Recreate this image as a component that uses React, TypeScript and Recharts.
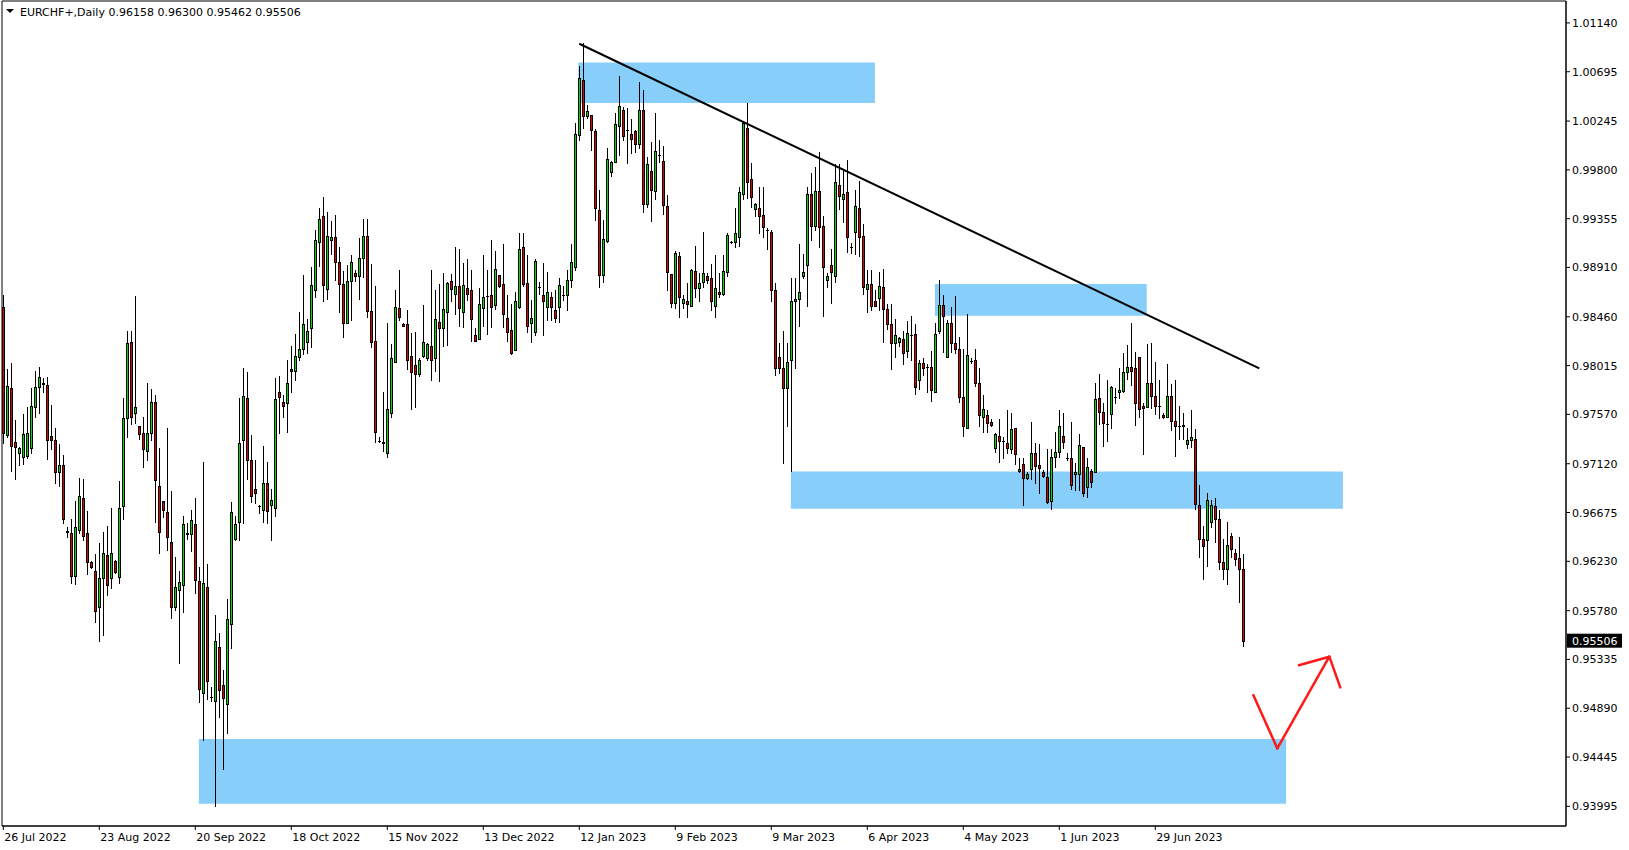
import React from "react";
import { Bar, ComposedChart, ReferenceArea, ReferenceLine, XAxis, YAxis } from "recharts";

// EURCHF+ daily bars (bar 0 = 26 Jul 2022)
const OPEN = [
  0.9855, 0.9738, 0.9781, 0.9732, 0.9722, 0.9718, 0.9719, 0.9726, 0.9764, 0.9782,
  0.9786, 0.9784, 0.9737, 0.9734, 0.9704, 0.9711, 0.9651, 0.9649, 0.961, 0.9652,
  0.9681, 0.9649, 0.9622, 0.9614, 0.9581, 0.9608, 0.9629, 0.9608, 0.9623, 0.9609,
  0.9673, 0.9754, 0.9823, 0.9758, 0.9746, 0.974, 0.9724, 0.974, 0.9768, 0.9692,
  0.9678, 0.9668, 0.9641, 0.9581, 0.9597, 0.9601, 0.9649, 0.9648, 0.9657, 0.9605,
  0.9503, 0.96, 0.9499, 0.9496, 0.9545, 0.951, 0.9493, 0.9566, 0.9643, 0.9659,
  0.9734, 0.9772, 0.9715, 0.9689, 0.9673, 0.967, 0.9694, 0.9674, 0.9672, 0.9777,
  0.9768, 0.9767, 0.9798, 0.9797, 0.9809, 0.9817, 0.9823, 0.9836, 0.987, 0.9914,
  0.9938, 0.9871, 0.9916, 0.9919, 0.9896, 0.9876, 0.984, 0.9879, 0.9886, 0.9883,
  0.99, 0.992, 0.9851, 0.9824, 0.9733, 0.9732, 0.9722, 0.9758, 0.9805, 0.9854,
  0.9839, 0.9839, 0.981, 0.9802, 0.9794, 0.981, 0.9808, 0.9819, 0.9808, 0.9841,
  0.9836, 0.985, 0.9879, 0.9867, 0.9874, 0.985, 0.9872, 0.987, 0.9829, 0.9826,
  0.9854, 0.9865, 0.9866, 0.9857, 0.9884, 0.9876, 0.9845, 0.9834, 0.9816, 0.9855,
  0.991, 0.9877, 0.984, 0.9832, 0.9873, 0.9866, 0.9855, 0.9864, 0.9852, 0.9855,
  0.9866, 0.9866, 0.988, 0.9891, 1.0012, 1.0062, 1.0029, 1.003, 1.0015, 0.9943,
  0.9884, 0.9915, 0.9978, 0.9987, 1.002, 1.0035, 1.0016, 1.0013, 1.0015, 1.0004,
  1.0035, 0.9949, 0.9979, 0.9961, 0.9994, 0.9988, 0.9947, 0.9885, 0.9859, 0.9901,
  0.9859, 0.986, 0.9856, 0.9888, 0.9872, 0.9878, 0.9883, 0.9881, 0.9856, 0.9869,
  0.9867, 0.9887, 0.9914, 0.9914, 0.9919, 0.9958, 1.0018, 0.9972, 0.9944, 0.9945,
  0.9939, 0.9925, 0.9923, 0.987, 0.9809, 0.9799, 0.9781, 0.9807, 0.986, 0.9862,
  0.9883, 0.9893, 0.9958, 0.9929, 0.9961, 0.9929, 0.988, 0.9893, 0.9883, 0.9966,
  0.9953, 0.996, 0.991, 0.9923, 0.9945, 0.992, 0.9871, 0.9876, 0.986, 0.9863,
  0.9873, 0.9853, 0.9839, 0.9822, 0.9823, 0.9826, 0.9815, 0.9829, 0.983, 0.9788,
  0.9804, 0.98, 0.98, 0.9777, 0.9833, 0.9857, 0.9809, 0.984, 0.9822, 0.9817,
  0.9773, 0.9745, 0.9806, 0.9807, 0.9786, 0.9755, 0.9756, 0.975, 0.9726, 0.9737,
  0.9733, 0.9731, 0.9725, 0.9745, 0.9705, 0.9712, 0.9699, 0.9707, 0.9722, 0.9711,
  0.9704, 0.97, 0.9678, 0.9718, 0.9723, 0.9737, 0.9717, 0.9717, 0.9703, 0.9703,
  0.9727, 0.9691, 0.9705, 0.9704, 0.9772, 0.9759, 0.9748, 0.9757, 0.9773, 0.9777,
  0.9778, 0.9796, 0.98, 0.9799, 0.9809, 0.9765, 0.9764, 0.9786, 0.9774, 0.9765,
  0.9756, 0.9755, 0.9774, 0.9751, 0.9746, 0.9746, 0.973, 0.9734, 0.9735, 0.9674,
  0.9643, 0.9642, 0.9659, 0.9673, 0.9662, 0.9622, 0.9616, 0.9646, 0.9631, 0.9626,
  0.96158,
];

const HIGH = [
  0.9866, 0.9798, 0.9804, 0.9752, 0.9727, 0.9757, 0.9764, 0.9781, 0.9797, 0.98,
  0.979, 0.9791, 0.9766, 0.9745, 0.973, 0.972, 0.9654, 0.9662, 0.9678, 0.9699,
  0.9698, 0.9669, 0.9623, 0.963, 0.964, 0.965, 0.9655, 0.9672, 0.9624, 0.9696,
  0.9772, 0.9833, 0.9833, 0.9865, 0.9746, 0.9755, 0.9786, 0.978, 0.9775, 0.9726,
  0.9678, 0.9745, 0.9687, 0.9627, 0.9614, 0.9664, 0.9658, 0.967, 0.9681, 0.9618,
  0.9714, 0.9621, 0.9508, 0.9574, 0.9558, 0.9524, 0.9589, 0.9677, 0.9664, 0.9772,
  0.9799, 0.9796, 0.9738, 0.9715, 0.9674, 0.9728, 0.9714, 0.9689, 0.979, 0.9792,
  0.9775, 0.9807, 0.9819, 0.983, 0.985, 0.9884, 0.9844, 0.9891, 0.9925, 0.9945,
  0.9955, 0.9942, 0.9933, 0.9939, 0.991, 0.9888, 0.9893, 0.9902, 0.9889, 0.9918,
  0.9935, 0.9935, 0.9894, 0.9874, 0.9736, 0.9777, 0.984, 0.9821, 0.987, 0.9889,
  0.984, 0.9852, 0.9831, 0.9832, 0.9808, 0.9857, 0.9822, 0.9889, 0.987, 0.9876,
  0.9886, 0.9878, 0.9885, 0.991, 0.9908, 0.9895, 0.9899, 0.9889, 0.9836, 0.9872,
  0.9902, 0.9889, 0.9916, 0.9906, 0.9884, 0.9912, 0.9866, 0.9858, 0.9869, 0.9922,
  0.9922, 0.9902, 0.9861, 0.9899, 0.9878, 0.9895, 0.9887, 0.9869, 0.987, 0.9881,
  0.9874, 0.9889, 0.9912, 1.0023, 1.0075, 1.0096, 1.0039, 1.003, 1.0017, 0.9962,
  0.9934, 1.0, 0.9988, 1.0032, 1.0066, 1.0037, 1.0036, 1.0026, 1.0016, 1.006,
  1.0053, 0.9992, 1.0005, 1.0032, 1.0007, 1.0002, 0.9957, 0.9885, 0.9906, 0.9905,
  0.9866, 0.9877, 0.989, 0.9911, 0.9886, 0.9923, 0.9886, 0.9894, 0.9902, 0.9886,
  0.9902, 0.9922, 0.9915, 0.9945, 0.9964, 1.0025, 1.0041, 0.9986, 0.995, 0.9964,
  0.9964, 0.9927, 0.9925, 0.9877, 0.9822, 0.9833, 0.9822, 0.9881, 0.9881, 0.9912,
  0.9903, 0.9964, 0.9977, 0.9983, 0.9996, 0.9938, 0.9886, 0.9908, 0.9985, 0.9985,
  0.9979, 0.9989, 0.9913, 0.9962, 0.997, 0.9931, 0.9889, 0.9889, 0.987, 0.9887,
  0.989, 0.9858, 0.9858, 0.9844, 0.9828, 0.9833, 0.9842, 0.9847, 0.9839, 0.9807,
  0.9808, 0.9803, 0.9815, 0.984, 0.988, 0.9866, 0.9843, 0.9855, 0.9865, 0.9828,
  0.9817, 0.9849, 0.9808, 0.9817, 0.9799, 0.9775, 0.9761, 0.9753, 0.974, 0.9753,
  0.9736, 0.9761, 0.9758, 0.9745, 0.9717, 0.9717, 0.9704, 0.975, 0.9731, 0.973,
  0.9706, 0.9725, 0.9725, 0.9741, 0.9761, 0.9758, 0.9722, 0.975, 0.9713, 0.9739,
  0.9727, 0.9717, 0.9707, 0.9786, 0.9794, 0.9767, 0.9788, 0.9783, 0.9781, 0.9799,
  0.9813, 0.982, 0.984, 0.9814, 0.9809, 0.9767, 0.9821, 0.9822, 0.9805, 0.9788,
  0.9758, 0.9803, 0.9785, 0.9788, 0.9765, 0.9758, 0.9745, 0.9761, 0.9744, 0.9693,
  0.9655, 0.9685, 0.9679, 0.9681, 0.967, 0.9643, 0.9659, 0.9649, 0.9634, 0.9645,
  0.963,
];

const LOW = [
  0.9731, 0.9736, 0.9705, 0.9698, 0.9711, 0.9712, 0.9717, 0.9722, 0.9755, 0.9758,
  0.9777, 0.9716, 0.9725, 0.9694, 0.9692, 0.9658, 0.9645, 0.9603, 0.9602, 0.9649,
  0.9642, 0.9611, 0.9617, 0.9568, 0.955, 0.9556, 0.9592, 0.9599, 0.9612, 0.9603,
  0.9662, 0.9736, 0.9748, 0.9749, 0.9735, 0.9709, 0.9715, 0.9734, 0.9659, 0.9631,
  0.9663, 0.9633, 0.9571, 0.9579, 0.953, 0.9577, 0.9643, 0.9632, 0.9594, 0.9495,
  0.946, 0.9497, 0.9496, 0.94, 0.9481, 0.9434, 0.9466, 0.9544, 0.9642, 0.9642,
  0.9658, 0.9698, 0.9677, 0.9676, 0.9667, 0.9659, 0.9658, 0.9642, 0.9664, 0.974,
  0.9755, 0.9741, 0.9777, 0.9788, 0.9807, 0.9812, 0.9813, 0.9818, 0.9864, 0.9892,
  0.986, 0.9862, 0.9903, 0.988, 0.985, 0.9828, 0.984, 0.9843, 0.9879, 0.9862,
  0.9882, 0.9846, 0.9818, 0.9732, 0.9732, 0.9724, 0.9718, 0.9755, 0.9805, 0.9843,
  0.9838, 0.9798, 0.9762, 0.9764, 0.9792, 0.9809, 0.9807, 0.9788, 0.9797, 0.9787,
  0.9819, 0.982, 0.986, 0.9849, 0.9838, 0.9837, 0.9861, 0.9824, 0.9824, 0.9826,
  0.9838, 0.983, 0.9837, 0.9853, 0.9873, 0.9837, 0.9824, 0.9812, 0.9816, 0.9854,
  0.9874, 0.9832, 0.9823, 0.9829, 0.9867, 0.9829, 0.9843, 0.9843, 0.9841, 0.9841,
  0.9861, 0.9852, 0.9873, 0.9889, 1.0007, 1.0018, 1.0027, 0.9998, 0.9934, 0.9873,
  0.9878, 0.9914, 0.9974, 0.9987, 0.9994, 1.0007, 0.9986, 0.9995, 0.9996, 1.0,
  0.9942, 0.9946, 0.9933, 0.9953, 0.9987, 0.994, 0.987, 0.9855, 0.9854, 0.9846,
  0.9854, 0.9846, 0.9856, 0.9864, 0.986, 0.9873, 0.9877, 0.9852, 0.9846, 0.9864,
  0.9866, 0.9883, 0.9913, 0.991, 0.9911, 0.9953, 0.9954, 0.9946, 0.9938, 0.9922,
  0.9919, 0.9908, 0.986, 0.9793, 0.9795, 0.9713, 0.9746, 0.9705, 0.9799, 0.9838,
  0.9881, 0.9856, 0.9916, 0.9925, 0.991, 0.9847, 0.9873, 0.9859, 0.9878, 0.9944,
  0.9932, 0.9905, 0.9904, 0.9903, 0.9901, 0.9867, 0.985, 0.9852, 0.9856, 0.9852,
  0.9823, 0.9835, 0.9798, 0.9809, 0.9819, 0.9803, 0.9809, 0.9807, 0.9776, 0.978,
  0.9793, 0.9777, 0.9769, 0.9777, 0.9831, 0.9814, 0.9809, 0.9814, 0.9813, 0.9768,
  0.9737, 0.9745, 0.9804, 0.9783, 0.9746, 0.9741, 0.9741, 0.9746, 0.9723, 0.9714,
  0.9717, 0.9722, 0.9722, 0.9712, 0.9704, 0.9674, 0.9698, 0.9698, 0.9694, 0.9685,
  0.97, 0.9676, 0.9671, 0.9709, 0.9718, 0.9726, 0.9715, 0.9689, 0.9688, 0.9688,
  0.9683, 0.9682, 0.9691, 0.9704, 0.9748, 0.9728, 0.9733, 0.9745, 0.9767, 0.9772,
  0.9777, 0.9789, 0.9784, 0.9747, 0.9755, 0.9721, 0.9764, 0.9763, 0.9757, 0.9754,
  0.9754, 0.9755, 0.9743, 0.9719, 0.9735, 0.9735, 0.9726, 0.9727, 0.9671, 0.9627,
  0.9607, 0.9619, 0.9654, 0.9641, 0.9616, 0.9607, 0.9602, 0.9627, 0.962, 0.9586,
  0.95462,
];

const CLOSE = [
  0.974, 0.9783, 0.9728, 0.9727, 0.9726, 0.9739, 0.974, 0.9765, 0.9782, 0.9791,
  0.9785, 0.9734, 0.9734, 0.9704, 0.9711, 0.9662, 0.965, 0.961, 0.9654, 0.9683,
  0.9646, 0.9622, 0.9618, 0.9578, 0.9608, 0.9631, 0.9601, 0.9631, 0.9613, 0.9672,
  0.9754, 0.9822, 0.9755, 0.9764, 0.9739, 0.9725, 0.974, 0.9768, 0.9697, 0.965,
  0.967, 0.9645, 0.9581, 0.96, 0.9604, 0.9657, 0.9648, 0.9661, 0.9606, 0.9507,
  0.9603, 0.9514, 0.9499, 0.955, 0.9506, 0.9498, 0.957, 0.9668, 0.9657, 0.9731,
  0.9774, 0.9715, 0.9683, 0.9685, 0.9673, 0.9694, 0.9669, 0.9679, 0.9771, 0.9773,
  0.9765, 0.9786, 0.9797, 0.981, 0.9817, 0.9839, 0.9833, 0.9875, 0.9916, 0.9935,
  0.9875, 0.992, 0.9919, 0.9896, 0.9876, 0.984, 0.9879, 0.9896, 0.9883, 0.99,
  0.992, 0.9851, 0.9823, 0.9741, 0.9733, 0.9731, 0.9762, 0.9808, 0.9855, 0.9846,
  0.9838, 0.9807, 0.9796, 0.9794, 0.9807, 0.9823, 0.9821, 0.9807, 0.9844, 0.9836,
  0.9853, 0.9877, 0.9871, 0.9874, 0.9854, 0.9875, 0.9867, 0.9844, 0.9824, 0.9858,
  0.9864, 0.9865, 0.9855, 0.989, 0.9874, 0.9849, 0.9832, 0.9813, 0.986, 0.9908,
  0.9876, 0.9838, 0.9845, 0.9897, 0.9873, 0.986, 0.9869, 0.9855, 0.9845, 0.9875,
  0.9866, 0.988, 0.9896, 1.0013, 1.0064, 1.0029, 1.0034, 1.0016, 0.9945, 0.9884,
  0.9917, 0.999, 0.9987, 1.0022, 1.0038, 1.0011, 1.0016, 1.0008, 1.0004, 1.0035,
  0.9949, 0.9985, 0.9962, 0.9997, 0.9994, 0.9948, 0.9887, 0.9859, 0.9904, 0.9864,
  0.9862, 0.9858, 0.9889, 0.9872, 0.9877, 0.9886, 0.988, 0.986, 0.9872, 0.9867,
  0.9888, 0.9921, 0.9914, 0.9922, 0.996, 1.0023, 0.9969, 0.9955, 0.9949, 0.9938,
  0.9928, 0.9925, 0.987, 0.9799, 0.9799, 0.9781, 0.9805, 0.986, 0.9862, 0.9869,
  0.9887, 0.9958, 0.9929, 0.9961, 0.9928, 0.9891, 0.9883, 0.9887, 0.9969, 0.9956,
  0.9958, 0.9919, 0.991, 0.9947, 0.9919, 0.9873, 0.9876, 0.9856, 0.9856, 0.9874,
  0.9853, 0.9839, 0.9822, 0.9829, 0.9827, 0.9813, 0.9831, 0.9829, 0.9782, 0.9804,
  0.9799, 0.98, 0.9779, 0.983, 0.9857, 0.9847, 0.984, 0.9822, 0.9817, 0.9773,
  0.9746, 0.9811, 0.9806, 0.9786, 0.9756, 0.9762, 0.9749, 0.9747, 0.9739, 0.9733,
  0.9733, 0.9726, 0.9744, 0.9721, 0.9707, 0.9699, 0.9703, 0.9722, 0.971, 0.9708,
  0.9701, 0.9677, 0.9718, 0.9723, 0.9746, 0.9732, 0.9717, 0.9693, 0.9704, 0.9729,
  0.9685, 0.9709, 0.9695, 0.9771, 0.9759, 0.9749, 0.9748, 0.9782, 0.9773, 0.9779,
  0.9796, 0.98, 0.9797, 0.9767, 0.9762, 0.9763, 0.9786, 0.9774, 0.9765, 0.9765,
  0.9755, 0.9774, 0.9751, 0.9746, 0.9746, 0.9747, 0.9734, 0.9736, 0.9675, 0.9643,
  0.9637, 0.9679, 0.9674, 0.9662, 0.9622, 0.9616, 0.9638, 0.9634, 0.9625, 0.9616,
  0.95506,
];

const DATE_TICKS = [0, 24, 48, 72, 96, 120, 144, 168, 192, 216, 240, 264, 288];
const DATE_LABELS = [
  "26 Jul 2022", "23 Aug 2022", "20 Sep 2022", "18 Oct 2022", "15 Nov 2022", "13 Dec 2022",
  "12 Jan 2023", "9 Feb 2023", "9 Mar 2023", "6 Apr 2023", "4 May 2023", "1 Jun 2023", "29 Jun 2023",
];

const PRICE_TICKS = [
  1.0114, 1.00695, 1.00245, 0.998, 0.99355, 0.9891, 0.9846, 0.98015, 0.9757,
  0.9712, 0.96675, 0.9623, 0.9578, 0.95335, 0.9489, 0.94445, 0.93995,
];

const SYMBOL = "EURCHF+,Daily";
const LAST = { open: 0.96158, high: 0.963, low: 0.95462, close: 0.95506 };

// drawn objects (bar index, price)
const ZONES = [
  { x1: 143.75, x2: 217.9, y1: 1.0041, y2: 1.0078 },
  { x1: 232.9, x2: 285.85, y1: 0.9847, y2: 0.9876 },
  { x1: 196.9, x2: 334.9, y1: 0.9671, y2: 0.9705 },
  { x1: 48.9, x2: 320.7, y1: 0.9402, y2: 0.9461 },
];
const TRENDLINE = [
  { x: 144, y: 1.0095 },
  { x: 314, y: 0.9799 },
];
const ARROW = [
  [{ x: 312.5, y: 0.9501 }, { x: 318.5, y: 0.94524 }],
  [{ x: 318.5, y: 0.94524 }, { x: 331.5, y: 0.9536 }],
  [{ x: 323.9, y: 0.95282 }, { x: 331.5, y: 0.9536 }],
  [{ x: 331.5, y: 0.9536 }, { x: 334.25, y: 0.9508 }],
];

const X_DOMAIN: [number, number] = [-0.325, 390.675];
const Y_DOMAIN: [number, number] = [0.93816, 1.0134];

const FONT = "'DejaVu Sans', Verdana, sans-serif";
const BULL = "#00dd00";
const BEAR = "#dd0000";
const ZONE_FILL = "#87cefa";

const data = OPEN.map((open, i) => ({
  i,
  open,
  high: HIGH[i],
  low: LOW[i],
  close: CLOSE[i],
  range: [LOW[i], HIGH[i]],
}));

function Candle(props: any) {
  const { x, y, width, height, payload } = props;
  if (!payload) return null;
  const { open, high, low, close } = payload;
  const top = Math.min(y, y + height);
  const bottom = Math.max(y, y + height);
  const span = high - low;
  const toY = (p: number) => (span > 0 ? top + ((high - p) / span) * (bottom - top) : top);
  const cx = Math.round(x + width / 2);
  const yHigh = Math.round(top);
  const yLow = Math.round(bottom);
  const yOpen = Math.round(toY(open));
  const yClose = Math.round(toY(close));
  const bodyTop = Math.min(yOpen, yClose);
  const bodyBottom = Math.max(yOpen, yClose);
  return (
    <g shapeRendering="crispEdges">
      <line x1={cx + 0.5} x2={cx + 0.5} y1={yHigh} y2={yLow + 1} stroke="#000" strokeWidth={1} />
      {bodyBottom - bodyTop < 1 ? (
        <line x1={cx - 1} x2={cx + 2} y1={bodyTop + 0.5} y2={bodyTop + 0.5} stroke="#000" strokeWidth={1} />
      ) : (
        <rect
          x={cx - 0.5}
          y={bodyTop + 0.5}
          width={2}
          height={bodyBottom - bodyTop}
          fill={close >= open ? BULL : BEAR}
          stroke="#000"
          strokeWidth={1}
        />
      )}
    </g>
  );
}

function DateTick({ x, y, payload }: any) {
  const label = DATE_LABELS[DATE_TICKS.indexOf(payload.value)];
  return (
    <text x={x + 1} y={y + 11} fontSize={11} fontFamily={FONT} fill="#000" textAnchor="start">
      {label}
    </text>
  );
}

function PriceTick({ x, y, payload }: any) {
  return (
    <text x={x} y={y + 4} fontSize={11} fontFamily={FONT} fill="#000" textAnchor="start">
      {Number(payload.value).toFixed(5)}
    </text>
  );
}

function LastPriceLabel({ viewBox }: any) {
  if (!viewBox) return null;
  const right = viewBox.x + viewBox.width;
  const cy = viewBox.y;
  return (
    <g>
      <rect x={right + 1} y={cy - 7} width={55} height={14} fill="#000" />
      <text x={right + 6} y={cy + 4} fontSize={11} fontFamily={FONT} fill="#fff">
        {LAST.close.toFixed(5)}
      </text>
    </g>
  );
}

export default function App() {
  return (
    <div style={{ position: "absolute", left: 0, top: 0, width: 1629, height: 850, background: "#fff" }}>
      <ComposedChart
        width={1629}
        height={850}
        data={data}
        margin={{ top: 1, right: 0, bottom: 0, left: 2 }}
      >
        <XAxis
          type="number"
          dataKey="i"
          domain={X_DOMAIN}
          allowDataOverflow
          ticks={DATE_TICKS}
          interval={0}
          height={24}
          tickSize={4}
          tickMargin={0}
          tick={<DateTick />}
          axisLine={{ stroke: "#000" }}
          tickLine={{ stroke: "#000" }}
        />
        <YAxis
          orientation="right"
          type="number"
          domain={Y_DOMAIN}
          allowDataOverflow
          ticks={PRICE_TICKS}
          interval={0}
          width={63}
          tickSize={4}
          tickMargin={2}
          tick={<PriceTick />}
          axisLine={{ stroke: "#000" }}
          tickLine={{ stroke: "#000" }}
        />
        <ReferenceArea
          x1={X_DOMAIN[0]}
          x2={X_DOMAIN[1]}
          y1={Y_DOMAIN[0]}
          y2={Y_DOMAIN[1]}
          fill="none"
          stroke="#000"
          strokeWidth={1}
          ifOverflow="visible"
        />
        {ZONES.map((z, k) => (
          <ReferenceArea key={k} {...z} fill={ZONE_FILL} fillOpacity={1} stroke="none" />
        ))}
        <Bar dataKey="range" barSize={4} shape={<Candle />} isAnimationActive={false} />
        <ReferenceLine segment={TRENDLINE} stroke="#000" strokeWidth={2} />
        {ARROW.map((seg, k) => (
          <ReferenceLine key={k} segment={seg} stroke="#ff1a1a" strokeWidth={2.5} strokeLinecap="round" />
        ))}
        <ReferenceLine y={LAST.close} stroke="transparent" label={<LastPriceLabel />} ifOverflow="visible" />
      </ComposedChart>
      <svg
        width={400}
        height={24}
        style={{ position: "absolute", left: 0, top: 0, pointerEvents: "none" }}
      >
        <polygon points="6,9 14,9 10,13" fill="#000" />
        <text x={20} y={16} fontSize={11} fontFamily={FONT} fill="#000">
          {`${SYMBOL}  ${LAST.open.toFixed(5)} ${LAST.high.toFixed(5)} ${LAST.low.toFixed(5)} ${LAST.close.toFixed(5)}`}
        </text>
      </svg>
    </div>
  );
}
